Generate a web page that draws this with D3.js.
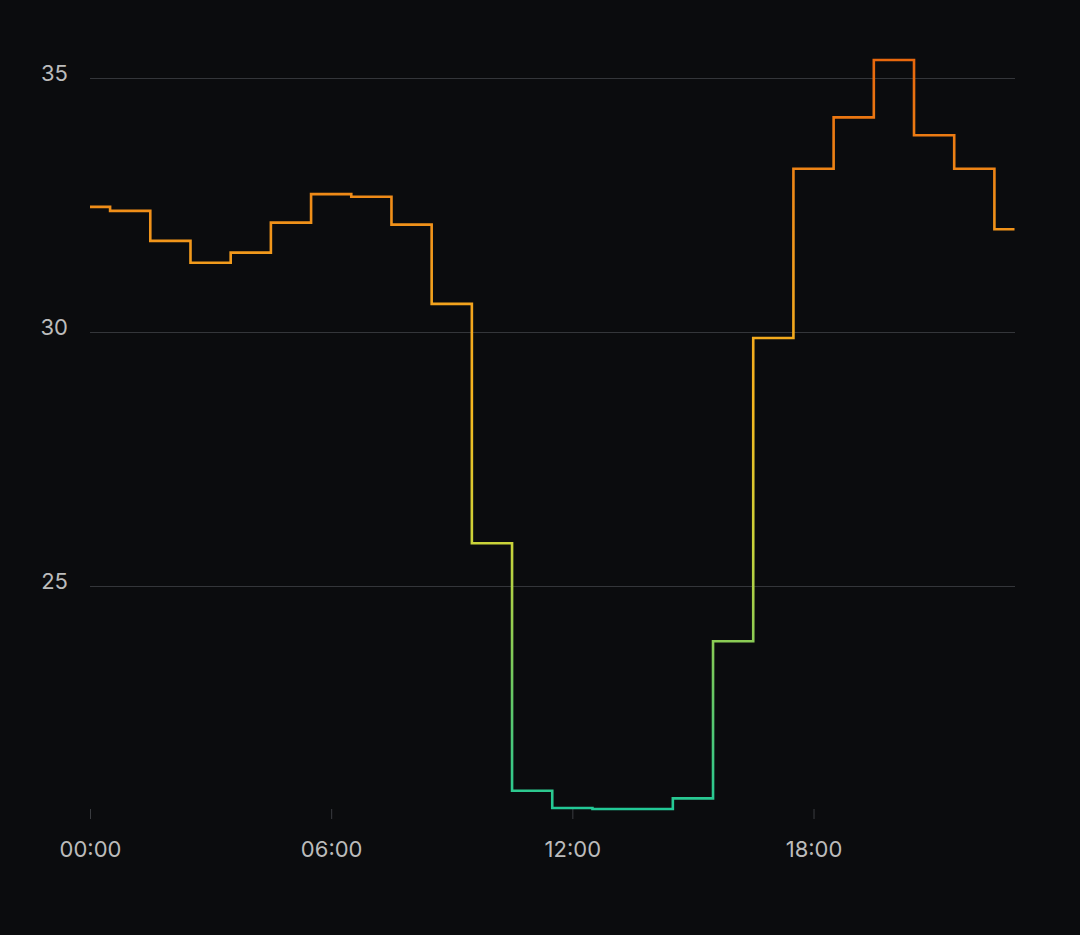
<!DOCTYPE html>
<html>
<head>
<meta charset="utf-8">
<script src="https://cdn.jsdelivr.net/npm/d3@7"></script>
<style>
  html, body { margin: 0; padding: 0; background: #0b0c0e; }
  svg { display: block; }
</style>
</head>
<body>
<svg id="chart" width="1080" height="935"></svg>
<script>
// ---- data ----
const hours = [0,1,2,3,4,5,6,7,8,9,10,11,12,13,14,15,16,17,18,19,20,21,22,23];
const temps = [32.47,32.39,31.80,31.37,31.57,32.16,32.72,32.67,32.12,30.56,25.85,20.98,
               20.64,20.62,20.62,20.83,23.92,29.89,33.22,34.23,35.36,33.88,33.22,32.03];
const xTickHours = [0,6,12,18];
const xTickLabels = ["00:00","06:00","12:00","18:00"];
const yTickValues = [25,30,35];
// colour stops along the value axis (value, colour)
const stopValues = [20.62, 23.0, 25.8, 28.5, 31.5, 35.36];
const stopColors = ["#22c997", "#6cc862", "#c9d43a", "#f4b81f", "#f29a1c", "#e8680d"];

const data = hours.map((h,i) => ({h, v: temps[i]}));

const W = 1080, H = 935;
const svg = d3.select("#chart");
svg.append("rect").attr("width", W).attr("height", H).attr("fill", "#0b0c0e");

const x = d3.scaleLinear().domain([0, 23]).range([90, 1014.5]);
const y = d3.scaleLinear().domain(d3.extent(temps)).range([809, 60]);

const font = "Inter, 'Noto Sans', sans-serif";
const labelColor = "#bcbcbc";

// gridlines + y labels
const yAxis = svg.append("g").attr("class", "y-axis");
yAxis.selectAll("line").data(yTickValues).join("line")
  .attr("x1", 90).attr("x2", 1015)
  .attr("y1", d => Math.round(y(d)) + 0.5).attr("y2", d => Math.round(y(d)) + 0.5)
  .attr("stroke", "#34363a").attr("stroke-width", 1);
yAxis.selectAll("text").data(yTickValues).join("text")
  .attr("x", 68).attr("y", d => y(d) + 3)
  .attr("text-anchor", "end")
  .attr("fill", labelColor)
  .attr("font-family", font).attr("font-size", 22)
  .text(d => d);

// x axis
const xAxis = d3.axisBottom(x)
  .tickValues(xTickHours)
  .tickFormat((d,i) => xTickLabels[i])
  .tickSize(10).tickPadding(22);
const gx = svg.append("g").attr("transform", `translate(0,${y.range()[0]})`).call(xAxis);
gx.select(".domain").remove();
gx.selectAll(".tick line").attr("stroke", "#3a3c40");
gx.selectAll(".tick text")
  .attr("fill", labelColor)
  .attr("font-family", font).attr("font-size", 22);

// gradient
const defs = svg.append("defs");
const grad = defs.append("linearGradient")
  .attr("id", "lineGrad")
  .attr("gradientUnits", "userSpaceOnUse")
  .attr("x1", 0).attr("x2", 0)
  .attr("y1", y(stopValues[0])).attr("y2", y(stopValues[stopValues.length-1]));
const span = stopValues[stopValues.length-1] - stopValues[0];
grad.selectAll("stop").data(stopValues).join("stop")
  .attr("offset", d => (d - stopValues[0]) / span)
  .attr("stop-color", (d,i) => stopColors[i]);

// step line
const line = d3.line()
  .x(d => x(d.h))
  .y(d => y(d.v))
  .curve(d3.curveStep);

svg.append("path")
  .datum(data)
  .attr("d", line)
  .attr("fill", "none")
  .attr("stroke", "url(#lineGrad)")
  .attr("stroke-width", 2.6)
  .attr("stroke-linejoin", "miter");
</script>
</body>
</html>
